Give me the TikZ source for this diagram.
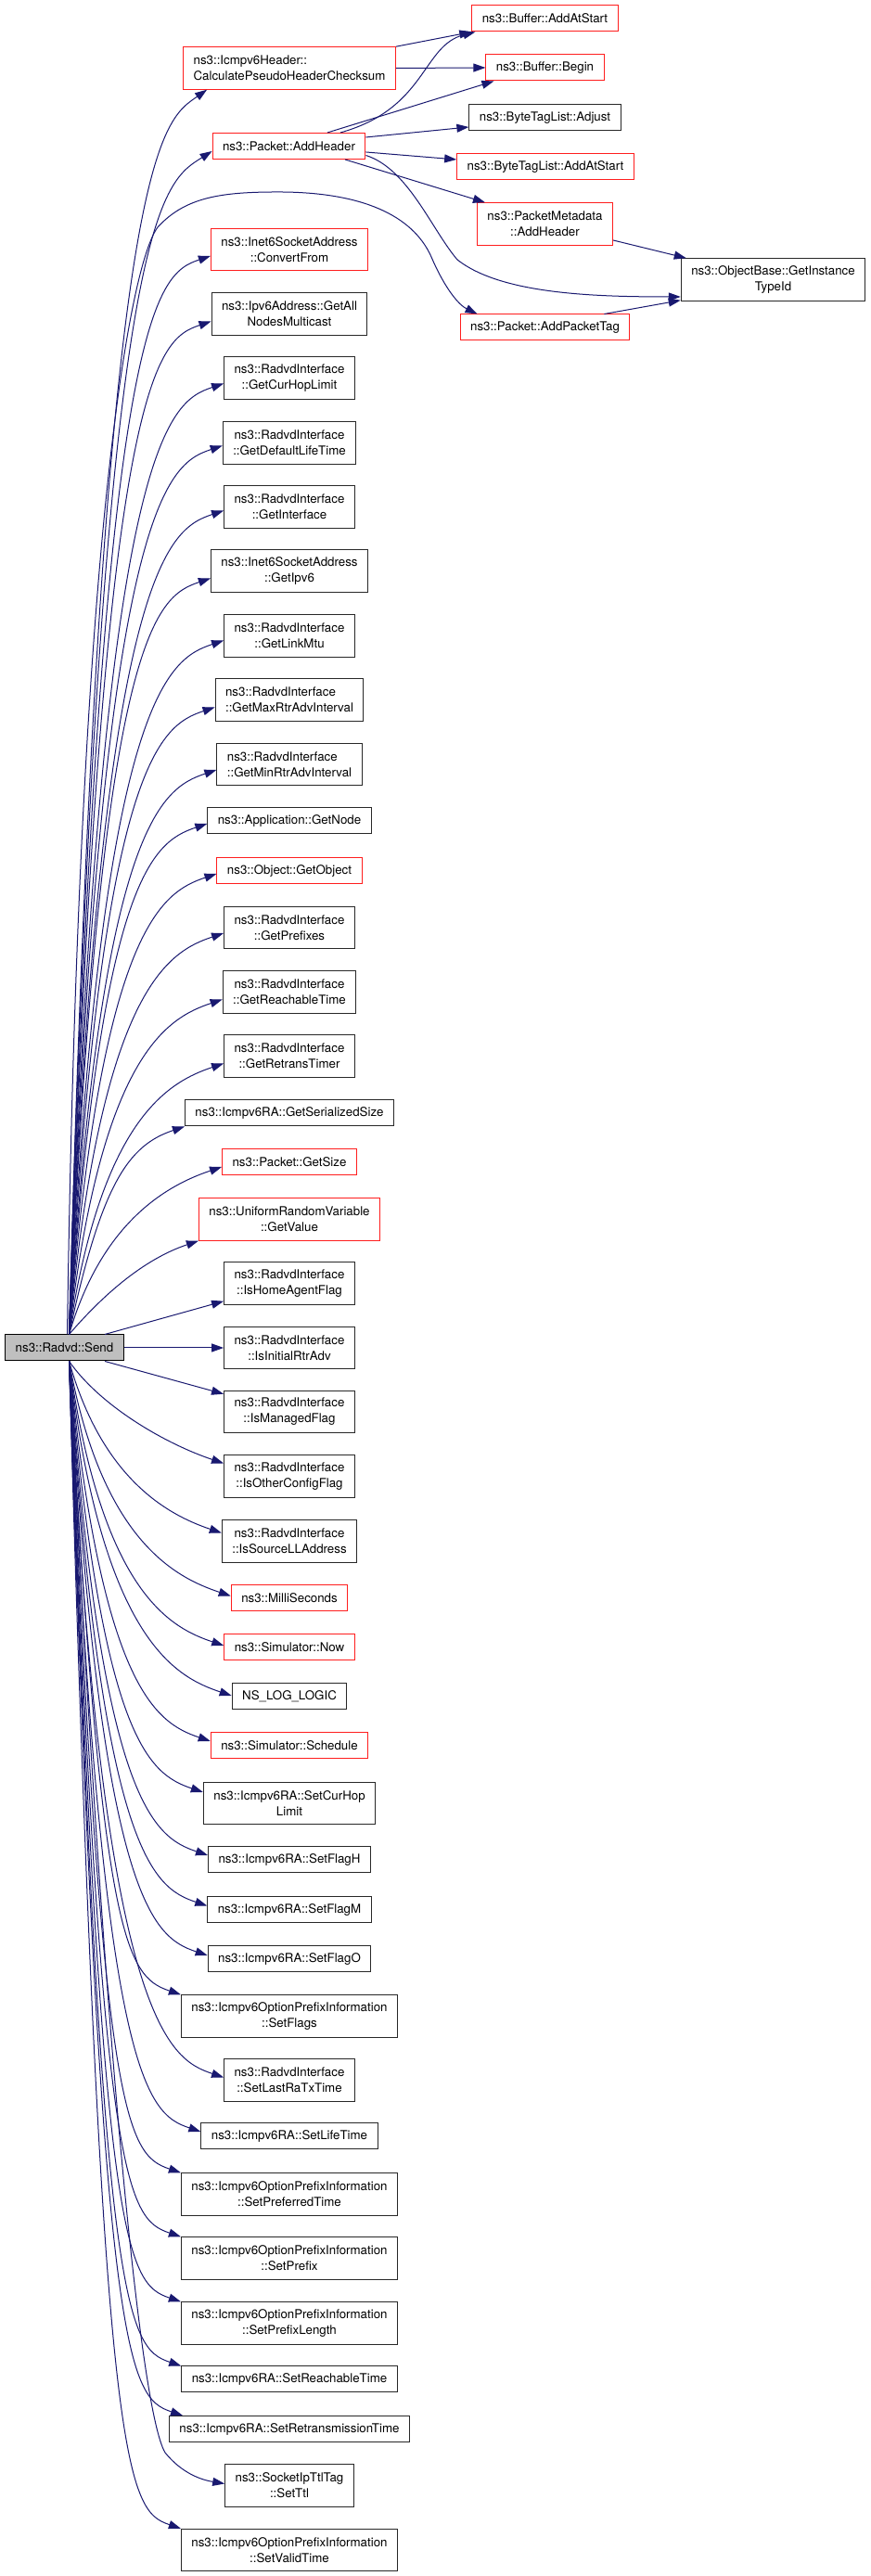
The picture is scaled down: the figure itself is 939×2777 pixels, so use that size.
\documentclass[tikz,border=0pt]{standalone}
\usepackage{fontspec}
\setmainfont{TeX Gyre Heros}
\usetikzlibrary{calc,arrows.meta}

\begin{document}
\begin{tikzpicture}[x=1pt,y=1pt,
  fnbox/.style={draw=boxColor,line width=1pt,inner xsep=11pt,inner ysep=3pt,
    minimum height=28pt,align=center,font=\fontsize{13.3pt}{17pt}\selectfont},
  fnbox2/.style={fnbox,minimum height=45.5pt},
  redbox/.style={draw=truncColor},
  rootbox/.style={draw=black,fill=rootColor},
  callarrow/.style={draw=edgeColor,line width=1pt,-{Triangle[length=13pt,width=9pt]}}]
\definecolor{boxColor}{RGB}{40,40,40}
\definecolor{truncColor}{RGB}{255,30,30}
\definecolor{rootColor}{RGB}{191,191,191}
\definecolor{edgeColor}{RGB}{25,25,112}
\path[use as bounding box,fill=white] (0,0) rectangle (939,2777);

\node[fnbox,rootbox] (send) at (69.5,1324) {ns3::Radvd::Send};

\node[fnbox2,redbox,align=left] (calc) at (312,2703.5) {ns3::Icmpv6Header::\\CalculatePseudoHeaderChecksum};
\node[fnbox,redbox] (addhdr) at (311.5,2619.5) {ns3::Packet::AddHeader};
\node[fnbox,redbox] (bufadd) at (587.5,2757) {ns3::Buffer::AddAtStart};
\node[fnbox,redbox] (bufbeg) at (587.5,2704) {ns3::Buffer::Begin};
\node[fnbox] (btladj) at (587.5,2650) {ns3::ByteTagList::Adjust};
\node[fnbox,redbox] (btladd) at (588,2597) {ns3::ByteTagList::AddAtStart};
\node[fnbox2,redbox] (pmdhdr) at (587.5,2535.5) {ns3::PacketMetadata\\::AddHeader};
\node[fnbox2] (gettid) at (833.5,2475.5) {ns3::ObjectBase::GetInstance\\TypeId};
\node[fnbox,redbox] (addtag) at (587.5,2424) {ns3::Packet::AddPacketTag};

\node[fnbox2,redbox] (cvt) at (312,2508) {ns3::Inet6SocketAddress\\::ConvertFrom};
\node[fnbox2] (mcast) at (312,2438.5) {ns3::Ipv6Address::GetAll\\NodesMulticast};
\node[fnbox2] (curhop) at (312,2369.5) {ns3::RadvdInterface\\::GetCurHopLimit};
\node[fnbox2] (deflt) at (312,2299.5) {ns3::RadvdInterface\\::GetDefaultLifeTime};
\node[fnbox2] (iface) at (312,2230.5) {ns3::RadvdInterface\\::GetInterface};
\node[fnbox2] (ipv6) at (312,2161.5) {ns3::Inet6SocketAddress\\::GetIpv6};
\node[fnbox2] (mtu) at (312,2091.5) {ns3::RadvdInterface\\::GetLinkMtu};
\node[fnbox2,align=left] (maxrtr) at (312,2022.5) {ns3::RadvdInterface\\::GetMaxRtrAdvInterval};
\node[fnbox2,align=left] (minrtr) at (312,1953) {ns3::RadvdInterface\\::GetMinRtrAdvInterval};
\node[fnbox] (getnode) at (312,1892) {ns3::Application::GetNode};
\node[fnbox,redbox] (getobj) at (312,1838) {ns3::Object::GetObject};
\node[fnbox2] (pfx) at (312,1777) {ns3::RadvdInterface\\::GetPrefixes};
\node[fnbox2] (reach) at (312,1707.5) {ns3::RadvdInterface\\::GetReachableTime};
\node[fnbox2] (retrans) at (312,1638.5) {ns3::RadvdInterface\\::GetRetransTimer};
\node[fnbox] (sersize) at (312,1577) {ns3::Icmpv6RA::GetSerializedSize};
\node[fnbox,redbox] (getsize) at (312,1524) {ns3::Packet::GetSize};
\node[fnbox2,redbox] (getval) at (312,1462.5) {ns3::UniformRandomVariable\\::GetValue};
\node[fnbox2] (home) at (312,1393.5) {ns3::RadvdInterface\\::IsHomeAgentFlag};
\node[fnbox2] (initrtr) at (312,1324) {ns3::RadvdInterface\\::IsInitialRtrAdv};
\node[fnbox2] (managed) at (312,1255) {ns3::RadvdInterface\\::IsManagedFlag};
\node[fnbox2] (other) at (312,1185.5) {ns3::RadvdInterface\\::IsOtherConfigFlag};
\node[fnbox2] (srcll) at (312,1115.5) {ns3::RadvdInterface\\::IsSourceLLAddress};
\node[fnbox,redbox] (milli) at (312,1054.5) {ns3::MilliSeconds};
\node[fnbox,redbox] (now) at (312,1001) {ns3::Simulator::Now};
\node[fnbox] (nslog) at (312,948) {NS\_LOG\_LOGIC};
\node[fnbox,redbox] (sched) at (312,895) {ns3::Simulator::Schedule};
\node[fnbox2] (setcur) at (312,833) {ns3::Icmpv6RA::SetCurHop\\Limit};
\node[fnbox] (flagh) at (312,772) {ns3::Icmpv6RA::SetFlagH};
\node[fnbox] (flagm) at (312,718.5) {ns3::Icmpv6RA::SetFlagM};
\node[fnbox] (flago) at (312,665) {ns3::Icmpv6RA::SetFlagO};
\node[fnbox2] (flags) at (312,603.5) {ns3::Icmpv6OptionPrefixInformation\\::SetFlags};
\node[fnbox2] (lastra) at (312,534.5) {ns3::RadvdInterface\\::SetLastRaTxTime};
\node[fnbox] (life) at (312,474) {ns3::Icmpv6RA::SetLifeTime};
\node[fnbox2] (pref) at (312,411.5) {ns3::Icmpv6OptionPrefixInformation\\::SetPreferredTime};
\node[fnbox2] (prefix) at (312,342.5) {ns3::Icmpv6OptionPrefixInformation\\::SetPrefix};
\node[fnbox2] (pfxlen) at (312,272.5) {ns3::Icmpv6OptionPrefixInformation\\::SetPrefixLength};
\node[fnbox] (setreach) at (312,212) {ns3::Icmpv6RA::SetReachableTime};
\node[fnbox] (setretr) at (312,158.5) {ns3::Icmpv6RA::SetRetransmissionTime};
\node[fnbox2] (ttl) at (312,97.5) {ns3::SocketIpTtlTag\\::SetTtl};
\node[fnbox2] (valid) at (312,28) {ns3::Icmpv6OptionPrefixInformation\\::SetValidTime};

\draw[callarrow] (calc.north east) -- (bufadd.south west);
\draw[callarrow] (calc.east) -- (bufbeg.west);
\draw[callarrow] ([xshift=55.5pt]addhdr.north) .. controls (460,2660) and (455,2728) .. ([xshift=4pt]bufadd.south west);
\draw[callarrow] ([xshift=41.5pt]addhdr.north) -- ([xshift=9pt]bufbeg.south west);
\draw[callarrow] ([yshift=9.5pt]addhdr.east) -- ([yshift=-10pt]btladj.west);
\draw[callarrow] ([yshift=-6.5pt]addhdr.east) -- ([yshift=8pt]btladd.west);
\draw[callarrow] ([xshift=60.5pt]addhdr.south) -- ([xshift=9pt]pmdhdr.north west);
\draw[callarrow] ([yshift=-10pt]addhdr.east) .. controls (440,2595) and (465,2530) .. (493,2497)
  .. controls (540,2460) and (640,2457) .. ([yshift=-18.5pt]gettid.west);
\draw[callarrow] ([yshift=-17.5pt]pmdhdr.east) -- ([xshift=6pt]gettid.north west);
\draw[callarrow] ([xshift=-28pt]addtag.north east) -- ([yshift=1pt]gettid.south west);

\draw[callarrow] let \p1=([xshift=5pt]send.north), \p2=([xshift=26pt]calc.south west) in
  (\p1) .. controls (\x1+35pt,\y2-60pt) and (\x2-50pt,\y2-35pt) .. (\p2);
\draw[callarrow] let \p1=([xshift=5pt]send.north), \p2=([yshift=-5.5pt]addhdr.west) in
  (\p1) .. controls (\x1+35pt,\y2-60pt) and (\x2-55pt,\y2-35pt) .. (\p2);
\draw[callarrow] ([xshift=3pt]send.north) .. controls (85,2200) and (140,2492) .. (170,2532)
  .. controls (200,2565) and (240,2570) .. (300,2570)
  .. controls (390,2570) and (445,2545) .. (465,2500)
  .. controls (480,2465) and (495,2448) .. ([xshift=19pt]addtag.north west);

\foreach \t/\a/\s in {cvt/west/7,mcast/west/8,curhop/west/6,deflt/west/3,iface/west/4,
  ipv6/west/8,mtu/west/5,maxrtr/west/8,minrtr/west/6,getnode/west/3,getobj/west/3,
  pfx/west/6,reach/west/8,retrans/west/8,sersize/south west/0,getsize/west/5,getval/south west/0}
  \draw[callarrow] let \p1=([xshift=5pt]send.north), \p2=([yshift=-\s]\t.\a) in
    (\p1) .. controls (\x1+35pt,\y2-60pt) and (\x2-60pt,\y2-20pt) .. (\p2);

\draw[callarrow] ([xshift=43.5pt]send.north) -- ([yshift=4pt]home.south west);
\draw[callarrow] (send.east) -- (initrtr.west);
\draw[callarrow] ([xshift=43.5pt]send.south) -- ([yshift=-4pt]managed.north west);

\foreach \t/\a/\s in {other/west/14,srcll/west/9,milli/west/2,now/west/2,nslog/west/1,
  sched/west/5,setcur/west/12,flagh/west/5,flagm/west/4,flago/west/4,flags/north west/0,
  lastra/west/3,life/west/5,pref/north west/0,prefix/north west/0,pfxlen/north west/0,
  setreach/north west/0,valid/north west/0}
  \draw[callarrow] let \p1=([xshift=5pt]send.south), \p2=([yshift=\s]\t.\a) in
    (\p1) .. controls (\x1+35pt,\y2+60pt) and (\x2-60pt,\y2+20pt) .. (\p2);
\draw[callarrow] let \p1=([xshift=5pt]send.south), \p2=([xshift=15pt]setretr.north west) in
  (\p1) .. controls (\x1+35pt,\y2+60pt) and (\x2-60pt,\y2+20pt) .. (\p2);
\draw[callarrow] ([xshift=5pt]send.south) .. controls (110,600) and (150,180) .. (178,133)
  .. controls (195,112) and (215,104) .. ([yshift=2pt]ttl.west);
\end{tikzpicture}
\end{document}
